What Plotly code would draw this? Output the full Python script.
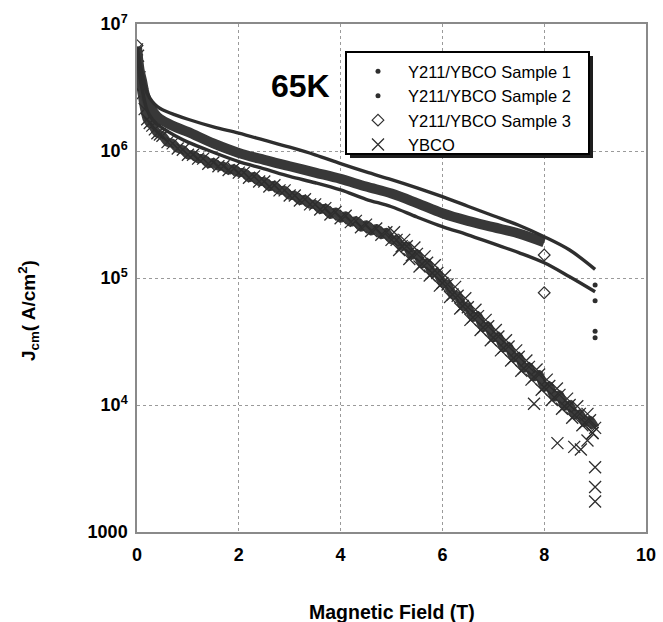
import plotly.graph_objects as go

# ---- data (field in T, log10 of Jcm in A/cm^2) ----
s1_field = [0.0, 0.05, 0.1, 0.15, 0.2, 0.3, 0.4, 0.5, 0.75, 1.0, 1.5, 2.0, 2.5, 3.0, 3.5, 4.0,
            4.5, 5.0, 5.5, 6.0, 6.5, 7.0, 7.5, 8.0, 8.5, 9.0]
s1_logj = [6.82, 6.70, 6.61, 6.52, 6.455, 6.39, 6.35, 6.325, 6.285, 6.25, 6.19, 6.14, 6.085, 6.03,
           5.97, 5.90, 5.835, 5.775, 5.71, 5.64, 5.565, 5.49, 5.415, 5.325, 5.22, 5.068]
s1_tail_field = [9.0, 9.0]
s1_tail_logj = [4.945, 4.58]

s2_field = [0.0, 0.05, 0.1, 0.15, 0.2, 0.3, 0.4, 0.5, 0.75, 1.0, 1.5, 2.0, 2.5, 3.0, 3.5, 4.0,
            4.5, 5.0, 5.5, 6.0, 6.5, 7.0, 7.5, 8.0, 8.5, 9.0]
s2_logj = [6.82, 6.60, 6.49, 6.39, 6.32, 6.25, 6.21, 6.18, 6.12, 6.07, 5.99, 5.916, 5.86, 5.80,
           5.75, 5.693, 5.62, 5.561, 5.48, 5.404, 5.34, 5.27, 5.20, 5.12, 5.01, 4.892]
s2_tail_field = [9.0, 9.0]
s2_tail_logj = [4.82, 4.53]

s3_field = [0.0, 0.05, 0.1, 0.15, 0.2, 0.3, 0.4, 0.5, 0.75, 1.0, 1.5, 2.0, 2.5, 3.0, 3.5, 4.0,
            4.5, 5.0, 5.5, 6.0, 6.5, 7.0, 7.5, 8.0]
s3_logj = [6.82, 6.64, 6.55, 6.45, 6.39, 6.32, 6.27, 6.24, 6.19, 6.15, 6.06, 5.985, 5.93, 5.88,
           5.83, 5.78, 5.72, 5.665, 5.59, 5.51, 5.45, 5.40, 5.35, 5.28]
s3_pts_field = [0.0, 8.0, 8.0]
s3_pts_logj = [6.83, 5.181, 4.884]

ybco_field = [0.0, 0.02, 0.05, 0.1, 0.15, 0.2, 0.25, 0.3, 0.35, 0.4, 0.45, 0.5, 0.6, 0.7, 0.8, 0.9,
              1.0, 1.1, 1.2, 1.3, 1.4, 1.5, 1.6, 1.7, 1.8, 1.9,
              2.0, 2.1, 2.2, 2.3, 2.4, 2.5, 2.6, 2.7, 2.8, 2.9,
              3.0, 3.1, 3.2, 3.3, 3.4, 3.5, 3.6, 3.7, 3.8, 3.9,
              4.0, 4.1, 4.2, 4.3, 4.4, 4.5, 4.6, 4.7, 4.8, 4.9,
              5.0, 5.1, 5.2, 5.3, 5.4, 5.5, 5.6, 5.7, 5.8, 5.9,
              6.0, 6.1, 6.2, 6.3, 6.4, 6.5, 6.6, 6.7, 6.8, 6.9,
              7.0, 7.1, 7.2, 7.3, 7.4, 7.5, 7.6, 7.7, 7.8, 7.9,
              8.0, 8.1, 8.2, 8.3, 8.4, 8.5, 8.6, 8.7, 8.8, 8.9,
              9.0]
ybco_logj = [6.80, 6.75, 6.58, 6.45, 6.33, 6.25, 6.22, 6.20, 6.17, 6.14, 6.13, 6.12, 6.07, 6.06, 6.02, 6.01,
             5.97, 5.97, 5.94, 5.94, 5.90, 5.91, 5.88, 5.88, 5.85, 5.86,
             5.83, 5.83, 5.79, 5.80, 5.76, 5.76, 5.72, 5.73, 5.69, 5.69,
             5.65, 5.65, 5.61, 5.62, 5.58, 5.58, 5.54, 5.55, 5.50, 5.52,
             5.47, 5.49, 5.44, 5.45, 5.40, 5.42, 5.37, 5.39, 5.34, 5.36,
             5.30, 5.30, 5.25, 5.25, 5.18, 5.19, 5.11, 5.12, 5.04, 5.04,
             4.96, 4.95, 4.87, 4.86, 4.78, 4.77, 4.69, 4.70, 4.61, 4.62,
             4.53, 4.54, 4.45, 4.46, 4.37, 4.38, 4.29, 4.30, 4.22, 4.24,
             4.14, 4.15, 4.06, 4.08, 3.99, 4.00, 3.92, 3.93, 3.86, 3.88,
             3.82]
# scatter around the band at high field, and isolated outliers
ybco_spread_field = [5.05, 5.15, 5.25, 5.35, 5.45, 5.55, 5.65, 5.75, 5.85, 5.95,
                     6.05, 6.15, 6.25, 6.35, 6.45, 6.55, 6.65, 6.75, 6.85, 6.95,
                     7.05, 7.15, 7.25, 7.35, 7.45, 7.55, 7.65, 7.75, 7.85, 7.95,
                     8.05, 8.15, 8.25, 8.35, 8.45, 8.55, 8.65, 8.75, 8.85, 8.95]
ybco_spread_logj = [5.36, 5.22, 5.30, 5.15, 5.24, 5.09, 5.17, 5.02, 5.10, 4.94,
                    5.02, 4.85, 4.93, 4.76, 4.84, 4.67, 4.75, 4.59, 4.67, 4.51,
                    4.59, 4.43, 4.51, 4.35, 4.43, 4.27, 4.35, 4.20, 4.28, 4.12,
                    4.20, 4.04, 4.13, 3.97, 4.05, 3.90, 3.99, 3.84, 3.93, 3.78]
ybco_out_field = [7.80, 8.26, 8.59, 8.72, 8.85, 8.95, 9.0, 9.0, 9.0]
ybco_out_logj = [4.01, 3.70, 3.67, 3.65, 3.72, 3.78, 3.51, 3.355, 3.24]

x_ticks = [0, 2, 4, 6, 8, 10]
y_ticks = [1e3, 1e4, 1e5, 1e6, 1e7]
y_tick_text = ["1000", "10<sup>4</sup>", "10<sup>5</sup>", "10<sup>6</sup>", "10<sup>7</sup>"]


def j(vals):
    return [10 ** v for v in vals]


INK = "#2e2e2e"
FONT = "Liberation Sans, Arial, sans-serif"

# plot area in pixels
L, R, T, B = 137, 646, 24, 532
W, H = R - L, B - T


def px(xp):
    return (xp - L) / W


def py(yp):
    return (B - yp) / H


fig = go.Figure()

# YBCO: dense band + crosses
fig.add_trace(go.Scatter(x=ybco_field, y=j(ybco_logj), mode="lines", showlegend=False,
                         hoverinfo="skip",
                         line=dict(color="#3c3c3c", width=9, shape="spline", smoothing=0.6)))
fig.add_trace(go.Scatter(x=ybco_field + ybco_spread_field + ybco_out_field,
                         y=j(ybco_logj + ybco_spread_logj + ybco_out_logj),
                         mode="markers", name="YBCO", legendrank=4,
                         marker=dict(symbol="x-thin", size=12, color=INK,
                                     line=dict(width=1.3, color=INK))))
# Sample 3: thick band of diamonds
fig.add_trace(go.Scatter(x=s3_field, y=j(s3_logj), mode="lines", showlegend=False,
                         line=dict(color="#383838", width=10, shape="spline")))
fig.add_trace(go.Scatter(x=s3_pts_field, y=j(s3_pts_logj), mode="markers",
                         name="Y211/YBCO Sample 3", legendrank=3,
                         marker=dict(symbol="diamond-open", size=9, color=INK,
                                     line=dict(width=1.2, color=INK))))
# Sample 2
fig.add_trace(go.Scatter(x=s2_field, y=j(s2_logj), mode="lines", showlegend=False,
                         line=dict(color=INK, width=3.4, shape="spline")))
fig.add_trace(go.Scatter(x=s2_tail_field, y=j(s2_tail_logj), mode="markers",
                         name="Y211/YBCO Sample 2", legendrank=2,
                         marker=dict(symbol="circle", size=5, color=INK)))
# Sample 1
fig.add_trace(go.Scatter(x=s1_field, y=j(s1_logj), mode="lines", showlegend=False,
                         line=dict(color=INK, width=3.4, shape="spline")))
fig.add_trace(go.Scatter(x=s1_tail_field, y=j(s1_tail_logj), mode="markers",
                         name="Y211/YBCO Sample 1", legendrank=1,
                         marker=dict(symbol="circle", size=5, color=INK)))

# legend frame (box + drop shadow), pixels
LB = dict(x0=346, x1=589, y0=52, y1=154)
SH = 4

fig.update_layout(
    width=663, height=622,
    margin=dict(l=L, r=663 - R, t=T, b=622 - B, autoexpand=False),
    paper_bgcolor="white", plot_bgcolor="white",
    font=dict(family=FONT, color="black"),
    showlegend=True,
    legend=dict(x=px(LB["x0"] + 2), y=py(LB["y0"] + 2), xanchor="left", yanchor="top",
                bgcolor="rgba(0,0,0,0)", borderwidth=0,
                font=dict(family=FONT, size=16.5, color="black"),
                itemwidth=50),
    xaxis=dict(range=[0, 10], tickvals=x_ticks,
               ticktext=["<b>%d</b>" % v for v in x_ticks],
               tickfont=dict(size=18), ticks="", ticklabelstandoff=6,
               showline=True, mirror=True,
               linecolor="#8a8a8a", linewidth=1.5,
               showgrid=True, gridcolor="#9a9a9a", griddash="dot", gridwidth=1,
               zeroline=False),
    yaxis=dict(type="log", range=[3, 7], tickvals=y_ticks,
               ticktext=["<b>%s</b>" % t for t in y_tick_text],
               tickfont=dict(size=18), ticks="", ticklabelstandoff=4,
               showline=True, mirror=True,
               linecolor="#8a8a8a", linewidth=1.5,
               showgrid=True, gridcolor="#9a9a9a", griddash="dot", gridwidth=1,
               zeroline=False),
    annotations=[
        dict(x=3.21, y=6.508, xref="x", yref="y", text="<b>65K</b>",
             showarrow=False, font=dict(size=32, color="black")),
        dict(x=0.5, y=0, xref="paper", yref="paper", yshift=-80, yanchor="middle",
             text="<b>Magnetic Field (T)</b>", showarrow=False,
             font=dict(size=19.5, color="black")),
        dict(x=0, y=4.74, xref="paper", yref="y", xshift=-(L - 28), xanchor="center",
             yanchor="middle", textangle=-90,
             text="<b>J<sub>cm</sub>( A/cm<sup>2</sup>)</b>", showarrow=False,
             font=dict(size=19, color="black")),
    ],
    shapes=[
        dict(type="rect", xref="paper", yref="paper",
             x0=px(LB["x0"] + SH), x1=px(LB["x1"] + SH),
             y0=py(LB["y1"] + SH), y1=py(LB["y0"] + SH),
             fillcolor="#1e1e1e", line=dict(width=0), layer="above"),
        dict(type="rect", xref="paper", yref="paper",
             x0=px(LB["x0"]), x1=px(LB["x1"]), y0=py(LB["y1"]), y1=py(LB["y0"]),
             fillcolor="white", line=dict(width=2, color="black"), layer="above"),
    ],
)

fig.write_html("out.html", config={"displayModeBar": False},
               post_script="document.body.style.margin='0';"
                           "document.body.style.overflow='hidden';")
